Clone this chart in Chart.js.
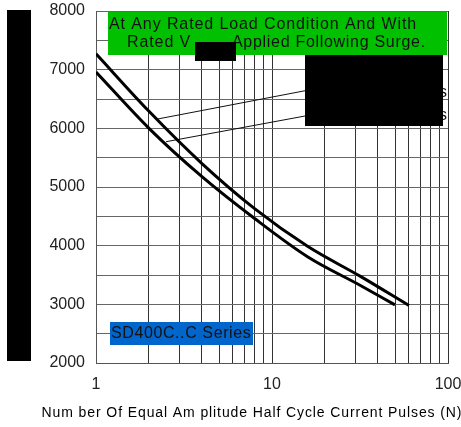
<!DOCTYPE html>
<html>
<head>
<meta charset="utf-8">
<script src="https://cdn.jsdelivr.net/npm/chart.js@4.4.1/dist/chart.umd.min.js"></script>
<style>
  body { margin: 0; background: #fff; }
  #wrap { width: 461px; height: 427px; }
</style>
</head>
<body>
<div id="wrap"><canvas id="chart" width="461" height="427"></canvas></div>
<script>
// pulses N (log axis) vs peak half sine wave current
const upperN = [1, 2, 4, 8, 16, 32, 60];
const upperI = [7270, 6290, 5400, 4627, 3985, 3472, 2980];
const lowerN = [1, 2, 4, 8, 16, 32, 50];
const lowerI = [6960, 6000, 5176, 4458, 3807, 3317, 2990];

// leader lines pointing at the (hidden) legend texts
const leader1N = [2.24, 20];
const leader1I = [6159, 6706];
const leader2N = [2.5, 20];
const leader2I = [5772, 6273];

const xTicks = [1, 2, 3, 4, 5, 6, 7, 8, 9, 10, 20, 30, 40, 50, 60, 70, 80, 90, 100];
const xLabels = [1, 10, 100];
const yLabels = [2000, 3000, 4000, 5000, 6000, 7000, 8000];

const noteLine1 = 'At Any Rated Load Condition And With';
const noteLine2a = 'Rated V';
const noteLine2b = 'Applied Following Surge.';
const seriesName = 'SD400C..C Series';
const xTitle = 'Num ber Of Equal Am plitude Half Cycle Current Pulses (N)';

const FONT = '"Liberation Sans", Arial, sans-serif';

function toPoints(xs, ys) {
    return xs.map((x, i) => ({ x: x, y: ys[i] }));
}

const curve = (xs, ys) => ({
    data: toPoints(xs, ys),
    borderColor: '#000',
    borderWidth: 3,
    pointRadius: 0,
    cubicInterpolationMode: 'monotone',
    fill: false
});

const leader = (xs, ys) => ({
    data: toPoints(xs, ys),
    borderColor: '#111',
    borderWidth: 1,
    pointRadius: 0,
    fill: false
});

// boxes and notes drawn over the plot
const notesPlugin = {
    id: 'notes',
    afterDatasetsDraw(chart) {
        const ctx = chart.ctx;
        ctx.save();

        // hidden legend text ends
        ctx.fillStyle = '#111';
        ctx.font = '16px ' + FONT;
        ctx.textAlign = 'right';
        ctx.textBaseline = 'middle';
        ctx.fillText('s', 447, 93);
        ctx.fillText('s', 447, 116);

        ctx.fillStyle = '#000';
        ctx.fillRect(305, 55, 138, 71);

        ctx.fillStyle = '#00c000';
        ctx.fillRect(108, 12, 339, 43);
        ctx.fillStyle = '#111';
        ctx.textAlign = 'left';
        ctx.letterSpacing = '0.9px';
        ctx.fillText(noteLine1, 109, 25);
        ctx.fillText(noteLine2a, 127, 43);
        ctx.letterSpacing = '0.7px';
        ctx.fillText(noteLine2b, 232, 43);
        ctx.fillStyle = '#000';
        ctx.fillRect(195, 42, 41, 19);

        ctx.fillStyle = '#0066cc';
        ctx.fillRect(110, 322, 143, 23);
        ctx.fillStyle = '#111';
        ctx.letterSpacing = '0.6px';
        ctx.fillText(seriesName, 111, 334);

        ctx.fillStyle = '#000';
        ctx.fillRect(7, 10, 24, 351);

        ctx.letterSpacing = '0.9px';
        ctx.font = '14px ' + FONT;
        ctx.textAlign = 'center';
        ctx.fillText(xTitle, 252, 413);
        ctx.restore();
    }
};

const config = {
    type: 'line',
    data: {
        datasets: [
            curve(upperN, upperI),
            curve(lowerN, lowerI),
            leader(leader1N, leader1I),
            leader(leader2N, leader2I)
        ]
    },
    options: {
        responsive: false,
        animation: false,
        layout: { padding: { top: 11, right: 13, left: 0, bottom: 0 } },
        plugins: {
            legend: { display: false },
            tooltip: { enabled: false }
        },
        scales: {
            x: {
                type: 'logarithmic',
                min: 1,
                max: 100,
                afterBuildTicks: (scale) => {
                    scale.ticks = xTicks.map(v => ({ value: v }));
                },
                afterFit: (scale) => {
                    scale.height = 64;
                    scale.paddingLeft = 0;
                    scale.paddingRight = 0;
                },
                border: { color: '#555', width: 1 },
                grid: { color: '#333', lineWidth: 1, drawTicks: false },
                ticks: {
                    autoSkip: false,
                    maxRotation: 0,
                    padding: 12,
                    color: '#222',
                    font: { family: FONT, size: 16 },
                    callback: (v) => xLabels.includes(v) ? String(v) : ''
                }
            },
            y: {
                min: 2000,
                max: 8000,
                afterFit: (scale) => {
                    scale.width = 96;
                    scale.paddingTop = 0;
                    scale.paddingBottom = 0;
                },
                border: { color: '#555', width: 1 },
                grid: { color: '#666', lineWidth: 1, drawTicks: false },
                ticks: {
                    stepSize: 500,
                    padding: 11,
                    color: '#222',
                    font: { family: FONT, size: 16 },
                    callback: (v) => yLabels.includes(v) ? String(v) : ''
                }
            }
        }
    },
    plugins: [notesPlugin]
};

new Chart(document.getElementById('chart'), config);
</script>
</body>
</html>
